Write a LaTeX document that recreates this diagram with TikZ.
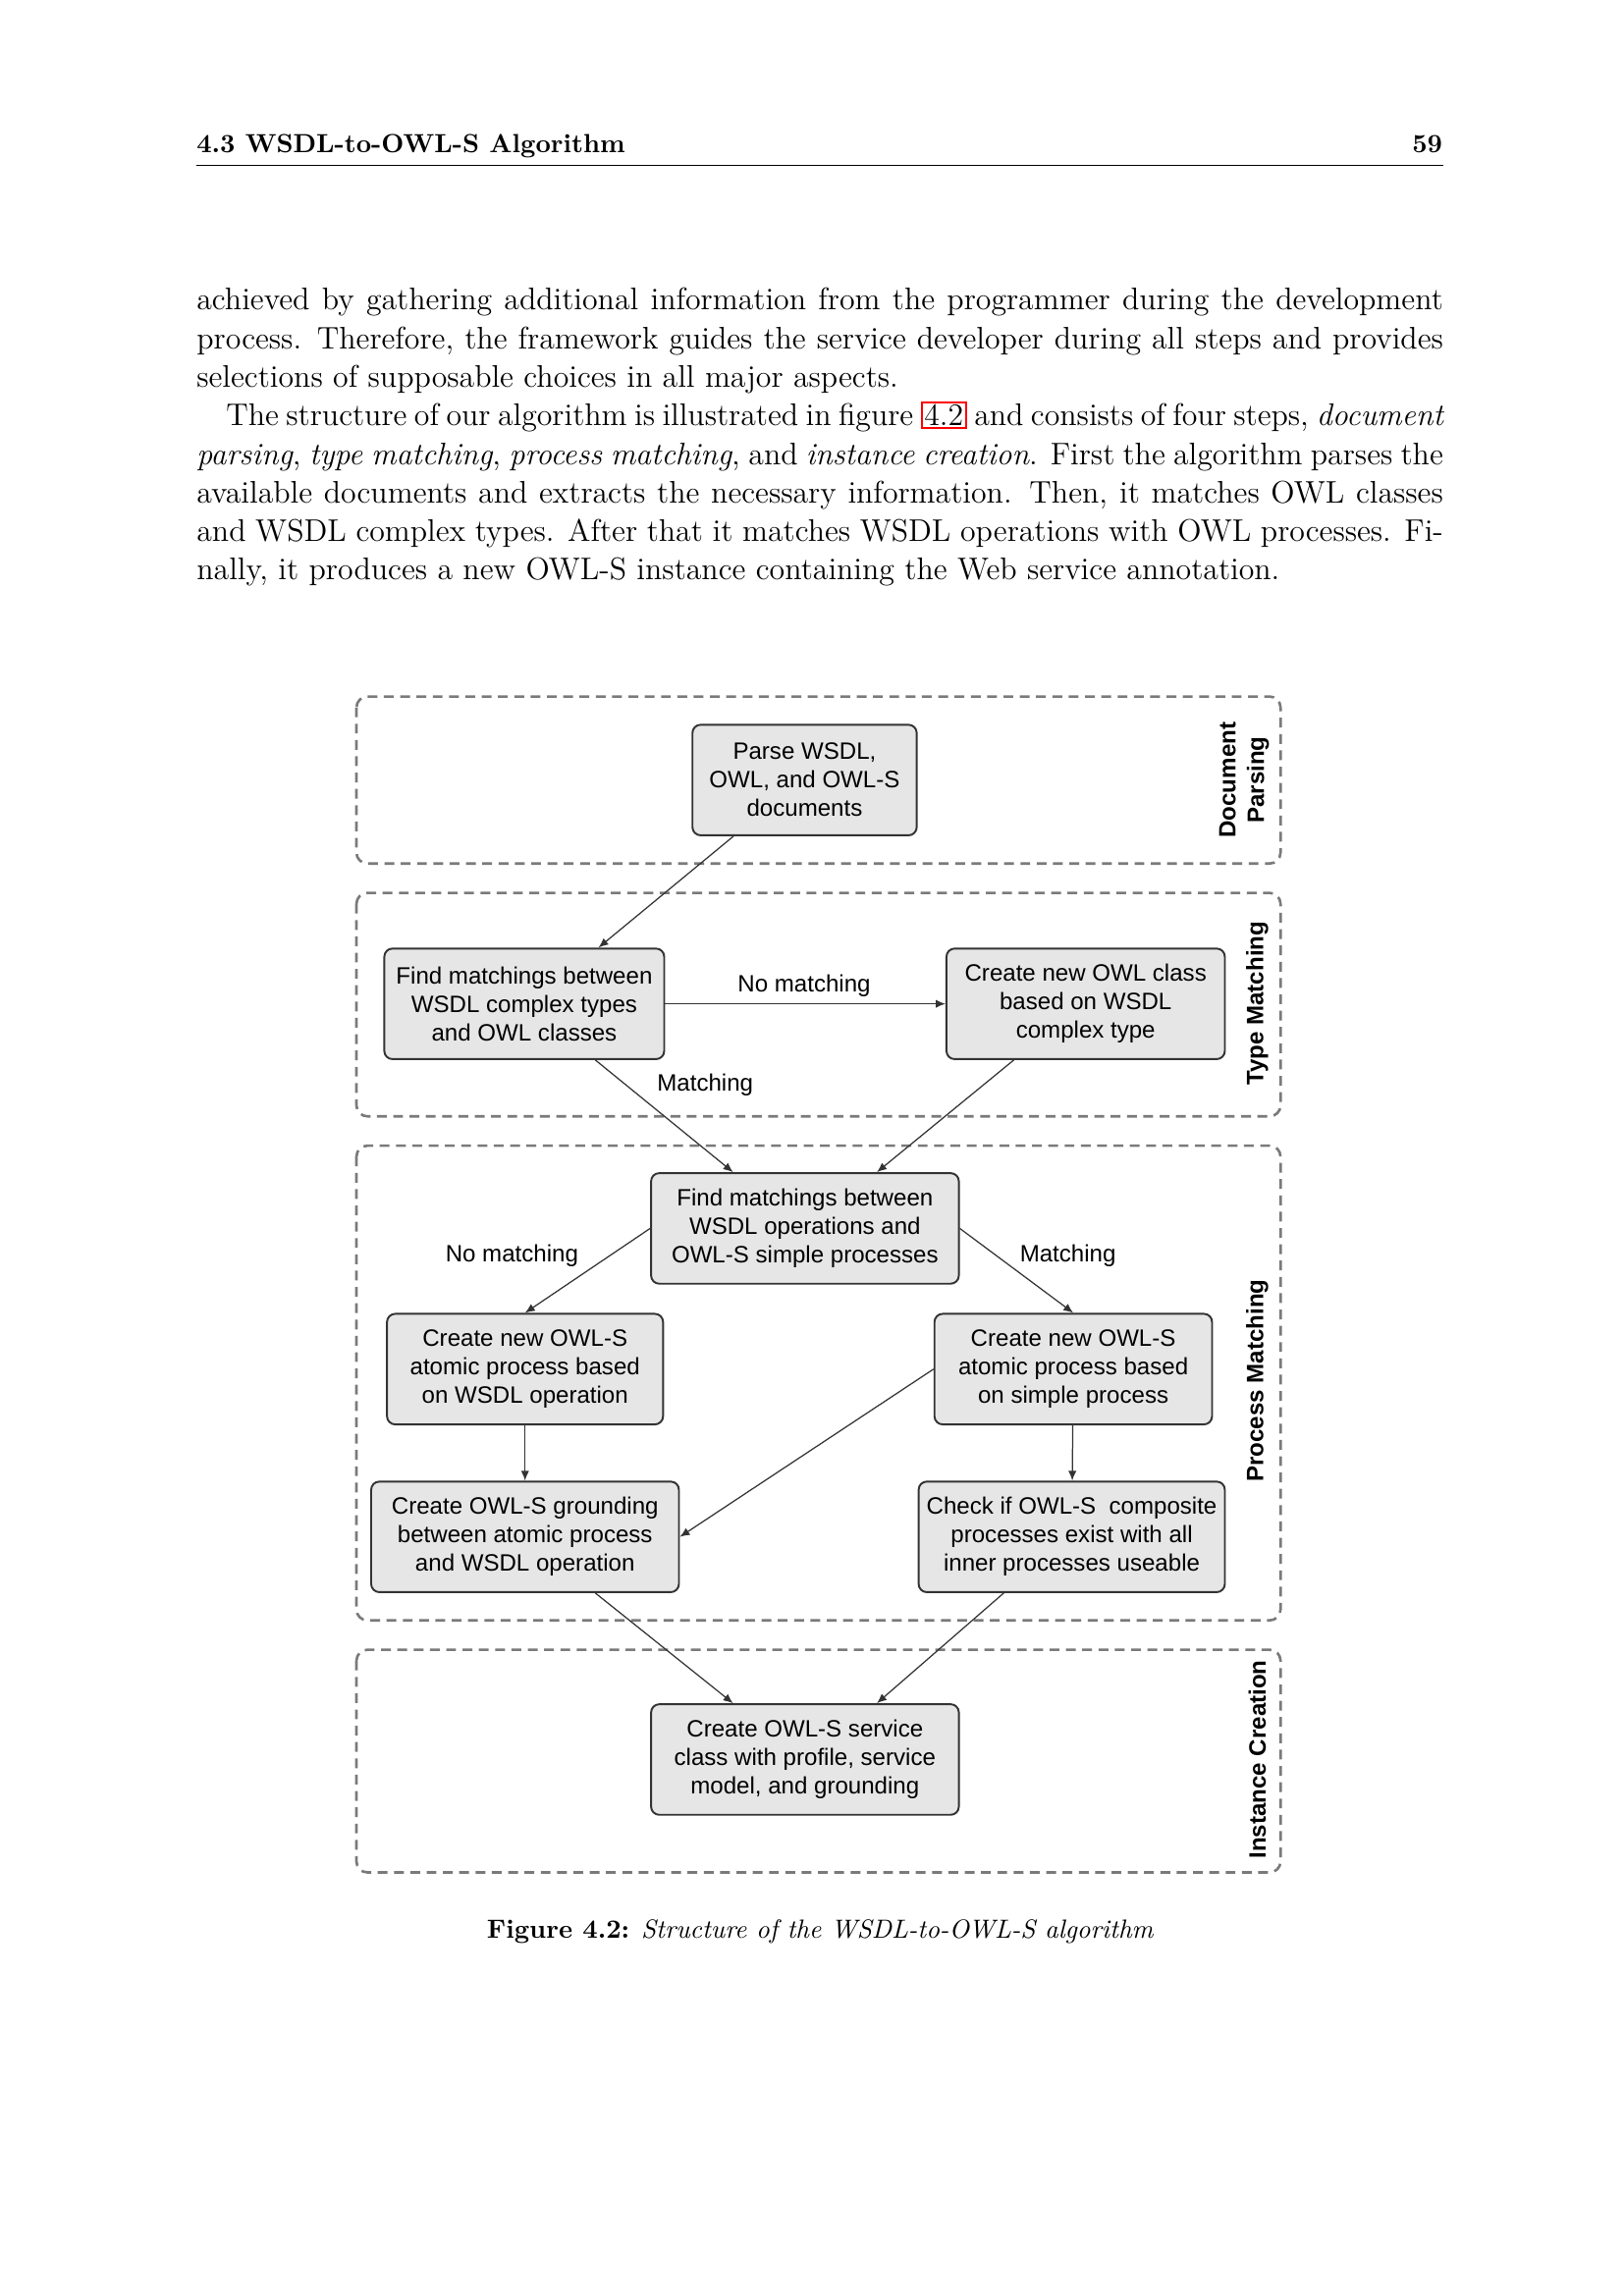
\documentclass[tikz,border=0pt]{standalone}
\usepackage{fontspec}
\newfontfamily\arialfont{Liberation Sans}
\usetikzlibrary{arrows.meta}
\definecolor{gristrait}{HTML}{333333}
\definecolor{grisfond}{HTML}{E6E6E6}
\definecolor{grispointille}{HTML}{7A7A7A}
\newcommand{\lienfig}[1]{{\fboxsep=0.6pt\fboxrule=0.7pt\color{red}\fbox{\color{black}#1}}}

\begin{document}
\begin{tikzpicture}
\useasboundingbox (0,0) rectangle (21,-29.7);
  \tikzstyle{lien}=[-{Latex[length=3.6pt,width=3pt]},gristrait,line width=0.45pt]
  \tikzstyle{groupe}=[draw=grispointille,line width=0.95pt,dash pattern=on 3.6pt off 2.4pt,rounded corners=4pt]
\tikzset{etape/.style={draw=gristrait,line width=0.7pt,fill=grisfond,rounded corners=3pt,
minimum width=#1,minimum height=1.43cm,align=center,inner sep=2pt,
font=\arialfont\fontsize{8.7}{10.5}\selectfont},
etape/.default={3.6cm},
etiquette/.style={font=\arialfont\fontsize{8.7}{10.5}\selectfont,inner sep=1pt},
phase/.style={rotate=90,align=center,inner sep=0pt,
font=\arialfont\bfseries\fontsize{8.7}{10.5}\selectfont}}

\node[anchor=base west,inner sep=0pt] (titre) at (2.537,-1.973){\fontsize{9.65}{14.2}\selectfont\bfseries 4.3 WSDL-to-OWL-S Algorithm};
\node[anchor=base east,inner sep=0pt] (page) at (18.66,-1.973){\fontsize{9.65}{14.2}\selectfont\bfseries 59};
\draw[line width=0.5pt] (2.537,-2.143) -- (18.66,-2.143);

\node[anchor=base west,inner sep=0pt] (texte) at (2.537,-4.01){\parbox[t]{16.12cm}{\fontsize{11.5}{14.2}\selectfont\tolerance=9999
achieved by gathering additional information from the programmer during the development\linebreak
process. Therefore, the framework guides the service developer during all steps and provides\linebreak
selections of supposable choices in all major aspects.\par
\hspace*{0.38cm}The structure of our algorithm is illustrated in figure \lienfig{4.2} and consists of four steps, \emph{document\linebreak
parsing}, \emph{type matching}, \emph{process matching}, and \emph{instance creation}. First the algorithm parses the\linebreak
available documents and extracts the necessary information. Then, it matches OWL classes\linebreak
and WSDL complex types. After that it matches WSDL operations with OWL processes. Fi-\linebreak
nally, it produces a new OWL-S instance containing the Web service annotation.\par}};

\draw[groupe] (4.61,-9.01) rectangle (16.56,-11.17);
\draw[groupe] (4.61,-11.55) rectangle (16.56,-14.44);
\draw[groupe] (4.61,-14.82) rectangle (16.56,-20.96);
\draw[groupe] (4.61,-21.34) rectangle (16.56,-24.22);

\node[phase] (P1) at (16.09,-10.09){Document\\Parsing};
\node[phase] (P2) at (16.26,-12.98){Type Matching};
\node[phase] (P3) at (16.26,-17.86){Process Matching};
\node[phase] (P4) at (16.26,-22.76){Instance Creation};

\node[etape=2.90cm] (A) at (10.405,-10.09){Parse WSDL,\\OWL, and OWL-S\\documents};
\node[etape=3.62cm] (B) at (6.78,-12.985){Find matchings between\\WSDL complex types\\and OWL classes};
\node[etape=3.60cm] (C) at (14.04,-12.985){Create new OWL class\\based on WSDL\\complex type};
\node[etape=3.98cm] (D) at (10.41,-15.89){Find matchings between\\WSDL operations and\\OWL-S simple processes};
\node[etape=3.57cm] (E) at (6.79,-17.71){Create new OWL-S\\atomic process based\\on WSDL operation};
\node[etape=3.59cm] (F) at (13.88,-17.71){Create new OWL-S\\atomic process based\\on simple process};
\node[etape=3.98cm] (G) at (6.79,-19.88){Create OWL-S grounding\\between atomic process\\and WSDL operation};
\node[etape=3.96cm] (H) at (13.86,-19.88){Check if OWL-S~ composite\\processes exist with all\\inner processes useable};
\node[etape=3.98cm] (I) at (10.41,-22.76){Create OWL-S service\\class with profile, service\\model, and grounding};

\draw[lien] ([xshift=-0.92cm]A.south) -- ([xshift=0.96cm]B.north);
\draw[lien] (B) -- (C);
\node[etiquette] (L1) at (10.40,-12.75){No matching};
\draw[lien] ([xshift=0.92cm]B.south) -- ([xshift=-0.93cm]D.north);
\node[etiquette] (L2) at (9.12,-14.04){Matching};
\draw[lien] ([xshift=-0.93cm]C.south) -- ([xshift=0.93cm]D.north);

\draw[lien] (D.west) -- (E.north);
\node[etiquette] (L3) at (6.62,-16.24){No matching};
\draw[lien] (D.east) -- (F.north);
\node[etiquette] (L4) at (13.81,-16.24){Matching};
\draw[lien] (E) -- (G);
\draw[lien] (F) -- (H);
\draw[lien] (F.west) -- (G.east);

\draw[lien] ([xshift=0.91cm]G.south) -- ([xshift=-0.93cm]I.north);
\draw[lien] ([xshift=-0.88cm]H.south) -- ([xshift=0.93cm]I.north);

\node[anchor=base] (legende) at (10.61,-25.07){\fontsize{9.67}{14.2}\selectfont\textbf{Figure 4.2:} \textit{Structure of the WSDL-to-OWL-S algorithm}};
  \end{tikzpicture}
\end{document}
